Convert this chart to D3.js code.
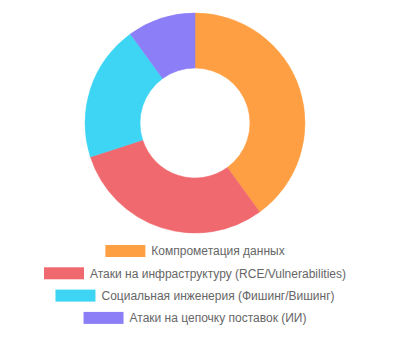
<!DOCTYPE html>
<html>
<head>
<meta charset="utf-8">
<script src="https://cdn.jsdelivr.net/npm/d3@7"></script>
<style>
  body { margin: 0; background: #fff; }
  #chart { width: 394px; height: 338px; }
</style>
</head>
<body>
<div id="chart"></div>
<script>
const categories = [
    "Компрометация данных",
    "Атаки на инфраструктуру (RCE/Vulnerabilities)",
    "Социальная инженерия (Фишинг/Вишинг)",
    "Атаки на цепочку поставок (ИИ)"
];
const values = [40, 30, 20, 10];
const colors = ["#ff9f43", "#f0696e", "#3dd5f3", "#8c7ef7"];

const width = 394, height = 338;
const cx = 195, cy = 123;
const outerR = 110, innerR = 55;

const svg = d3.select("#chart")
    .append("svg")
    .attr("width", width)
    .attr("height", height);

const pie = d3.pie().sort(null).value(d => d);
const arc = d3.arc().innerRadius(innerR).outerRadius(outerR);

const g = svg.append("g")
    .attr("transform", `translate(${cx},${cy})`);

g.selectAll("path")
    .data(pie(values))
    .enter()
    .append("path")
    .attr("d", arc)
    .attr("fill", (d, i) => colors[i])
    .attr("stroke", (d, i) => colors[i])
    .attr("stroke-width", 0.5);

// Legend, one centred row per item
const boxW = 40, boxH = 12, rowH = 22.3, legendTop = 251;
const font = "12px 'Liberation Sans', Arial, sans-serif";

const ctx = document.createElement("canvas").getContext("2d");
ctx.font = font;

const legend = svg.append("g");
categories.forEach((c, i) => {
    const tw = ctx.measureText(c).width;
    const total = boxW + 6 + tw;
    const x0 = cx - total / 2;
    const y = legendTop + i * rowH;
    legend.append("rect")
        .attr("x", x0)
        .attr("y", y - boxH / 2)
        .attr("width", boxW)
        .attr("height", boxH)
        .attr("fill", colors[i]);
    legend.append("text")
        .attr("x", x0 + boxW + 6)
        .attr("y", y)
        .attr("dy", "0.35em")
        .style("font", font)
        .attr("fill", "#666")
        .text(c);
});
</script>
</body>
</html>
